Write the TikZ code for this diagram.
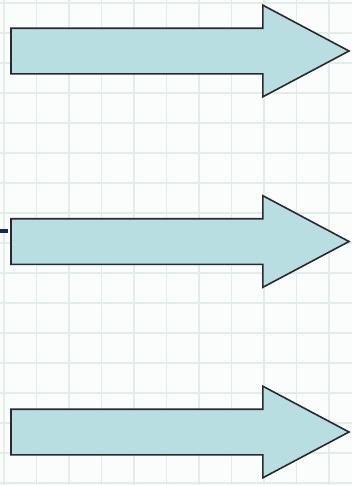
\documentclass[tikz,border=0pt]{standalone}
\usetikzlibrary{shapes.arrows}

\definecolor{paper}{RGB}{250,253,252}
\definecolor{gridline}{RGB}{226,237,233}
\definecolor{arrowfill}{RGB}{184,222,225}
\definecolor{edgegray}{RGB}{40,43,45}
\definecolor{stubblue}{RGB}{20,40,90}

\begin{document}
\begin{tikzpicture}[
    x=1pt, y=-1pt,
    bigarrow/.style={single arrow, draw=edgegray, fill=arrowfill,
                     line width=1.6pt, outer sep=0pt,
                     inner xsep=0pt, inner ysep=22pt,
                     text height=0pt, text depth=0pt, text width=0pt,
                     minimum height=338pt,
                     single arrow head extend=23pt,
                     single arrow tip angle=56,
                     anchor=tail},
    grid/.style={gridline, line width=1.5pt}
  ]
  % paper
  \fill[paper] (0,0) rectangle (352,485);
  \useasboundingbox (0,0) rectangle (352,485);

  % squared background
  \foreach \gx in {0,...,10}
    \draw[grid] (4+32.5*\gx,0) -- (4+32.5*\gx,485);
  \foreach \gy in {0,...,16}
    \draw[grid] (0,3+30*\gy) -- (352,3+30*\gy);

  % arrows
  \node[bigarrow] (top) at (11,51) {};
  \node[bigarrow] (mid) at (11,241.5) {};
  \node[bigarrow] (bot) at (11,432) {};

  % stub on the left
  \coordinate (stubend) at (8,231);
  \draw[stubblue, line width=3.5pt] (0,231) -- (stubend);
\end{tikzpicture}
\end{document}
